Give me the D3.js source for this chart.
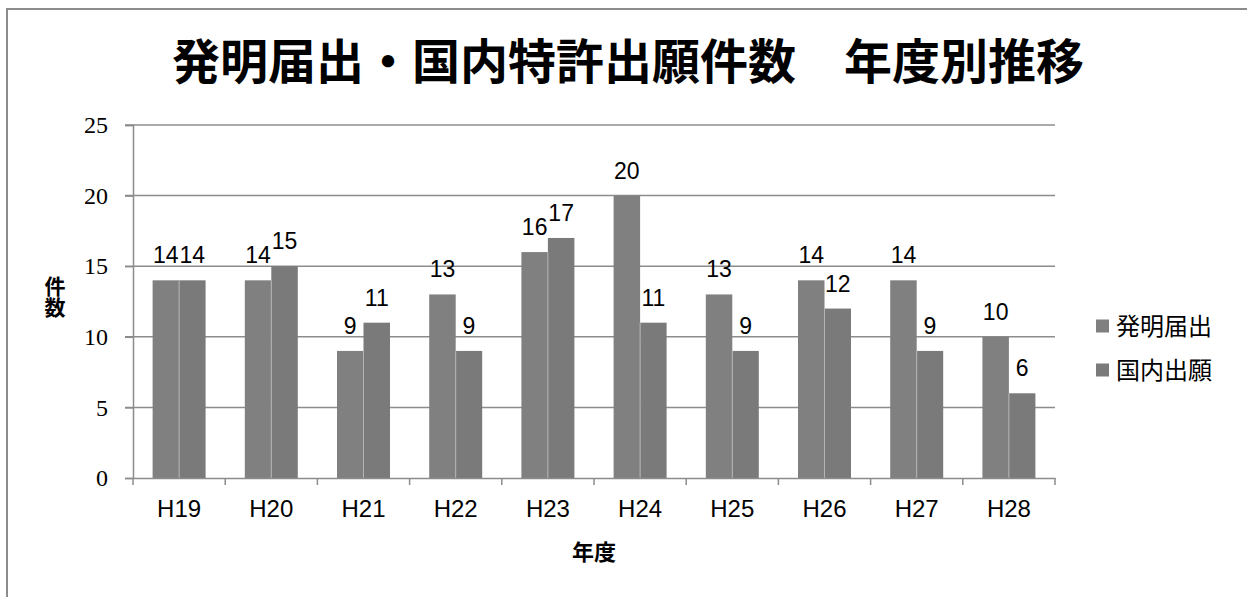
<!DOCTYPE html>
<html>
<head>
<meta charset="utf-8">
<script src="https://cdn.jsdelivr.net/npm/d3@7"></script>
<style>
  body { margin: 0; background: #fff; }
  svg { display: block; }
</style>
</head>
<body>
<div id="chart"></div>
<script>
// data
var years = ["H19", "H20", "H21", "H22", "H23", "H24", "H25", "H26", "H27", "H28"];
var seriesNames = ["発明届出", "国内出願"];
var hatsumei = [14, 14, 9, 13, 16, 20, 13, 14, 14, 10];
var kokunai = [14, 15, 11, 9, 17, 11, 9, 12, 9, 6];
var yTicks = [0, 5, 10, 15, 20, 25];
var colors = ["#808080", "#7a7a7a"];

var svgWidth = 1247, svgHeight = 597;
var margin = { top: 125, left: 133, right: 192, bottom: 119 };
var chartWidth = svgWidth - margin.left - margin.right;
var chartHeight = svgHeight - margin.top - margin.bottom;

var svg = d3.select("#chart").append("svg")
    .attr("width", svgWidth)
    .attr("height", svgHeight);

// outer frame (runs off the right and bottom edge)
svg.append("rect")
    .attr("x", 7).attr("y", 9)
    .attr("width", 1260).attr("height", 620)
    .attr("fill", "none")
    .attr("stroke", "#8c8c8c")
    .attr("stroke-width", 2);

// title
svg.append("text")
    .attr("x", 628).attr("y", 79)
    .attr("text-anchor", "middle")
    .style("font-family", "'Noto Sans CJK JP'")
    .style("font-weight", "bold")
    .style("font-size", "48px")
    .text("発明届出・国内特許出願件数　年度別推移");

var chartGroup = svg.append("g")
    .attr("transform", `translate(${margin.left}, ${margin.top})`);

var xScale = d3.scaleBand().domain(years).range([0, chartWidth]);
var xSub = d3.scaleBand().domain(seriesNames)
    .range([0, xScale.bandwidth()])
    .paddingOuter(0.74);
var yScale = d3.scaleLinear().domain([0, 25]).range([chartHeight, 0]);

// gridlines
chartGroup.selectAll(".grid")
    .data(yTicks.filter(d => d > 0))
    .enter().append("line")
    .attr("x1", -8).attr("x2", chartWidth)
    .attr("y1", d => yScale(d)).attr("y2", d => yScale(d))
    .attr("stroke", "#8c8c8c").attr("stroke-width", 1.5);

// y axis
var yAxis = chartGroup.append("g")
    .call(d3.axisLeft(yScale).tickValues(yTicks).tickSize(8).tickPadding(17))
    .attr("font-family", "Liberation Serif")
    .attr("font-size", 24);
yAxis.select(".domain").attr("stroke", "#8c8c8c").attr("stroke-width", 1.5);
yAxis.selectAll(".tick line").attr("stroke", "#8c8c8c").attr("stroke-width", 1.5);
yAxis.selectAll(".tick text").attr("fill", "#000");

// bars
var rows = years.map((y, i) => ({ year: y, values: [hatsumei[i], kokunai[i]] }));
var groups = chartGroup.selectAll(".grp")
    .data(rows)
    .enter().append("g")
    .attr("transform", d => `translate(${xScale(d.year)}, 0)`);

groups.selectAll("rect")
    .data(d => d.values.map((v, k) => ({ name: seriesNames[k], value: v, k: k })))
    .enter().append("rect")
    .attr("x", d => xSub(d.name))
    .attr("y", d => yScale(d.value))
    .attr("width", xSub.bandwidth())
    .attr("height", d => chartHeight - yScale(d.value))
    .attr("fill", d => colors[d.k]);

// thin light line between the two bars
groups.append("line")
    .attr("x1", xSub(seriesNames[1])).attr("x2", xSub(seriesNames[1]))
    .attr("y1", d => yScale(Math.min(d.values[0], d.values[1])))
    .attr("y2", chartHeight)
    .attr("stroke", "#b4b4b4").attr("stroke-width", 1);

// value labels
groups.selectAll(".lbl")
    .data(d => d.values.map((v, k) => ({ name: seriesNames[k], value: v })))
    .enter().append("text")
    .attr("x", d => xSub(d.name) + xSub.bandwidth() / 2)
    .attr("y", d => yScale(d.value) - 17)
    .attr("text-anchor", "middle")
    .style("font-family", "'Liberation Sans'")
    .style("font-size", "23px")
    .text(d => d.value);

// x axis
var xAxis = chartGroup.append("g")
    .attr("transform", `translate(0, ${chartHeight})`)
    .call(d3.axisBottom(xScale).tickSize(0).tickPadding(22));
xAxis.select(".domain").attr("stroke", "#8c8c8c").attr("stroke-width", 1.5);
xAxis.selectAll(".tick text")
    .style("font-family", "'Liberation Sans'")
    .style("font-size", "24px")
    .attr("fill", "#000");
// tick marks at category boundaries
xAxis.selectAll(".bnd")
    .data(years.concat(["end"]))
    .enter().append("line")
    .attr("x1", (d, i) => i < years.length ? xScale(d) : chartWidth)
    .attr("x2", (d, i) => i < years.length ? xScale(d) : chartWidth)
    .attr("y1", 0).attr("y2", 7)
    .attr("stroke", "#8c8c8c").attr("stroke-width", 1.5);

// axis titles
chartGroup.append("text")
    .attr("x", chartWidth / 2)
    .attr("y", chartHeight + 82)
    .attr("text-anchor", "middle")
    .style("font-family", "'Noto Sans CJK JP'")
    .style("font-weight", "bold")
    .style("font-size", "22px")
    .text("年度");

// vertical y title
svg.append("text")
    .attr("x", 55).attr("y", 297)
    .attr("text-anchor", "middle")
    .style("writing-mode", "vertical-rl")
    .style("font-family", "'Noto Sans CJK JP'")
    .style("font-weight", "bold")
    .style("font-size", "21px")
    .text("件数");

// legend
var legend = svg.selectAll(".legend")
    .data(seriesNames)
    .enter().append("g")
    .attr("transform", (d, i) => `translate(1096, ${326 + i * 44})`);
legend.append("rect")
    .attr("x", 0).attr("y", -6.5)
    .attr("width", 13).attr("height", 13)
    .attr("fill", (d, i) => colors[i]);
legend.append("text")
    .attr("x", 20).attr("y", 0)
    .attr("dy", "0.36em")
    .style("font-family", "'Noto Sans CJK JP'")
    .style("font-size", "24px")
    .text(d => d);
</script>
</body>
</html>
